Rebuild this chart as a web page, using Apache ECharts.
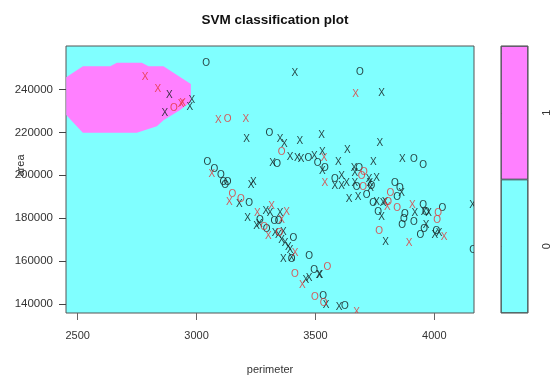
<!DOCTYPE html>
<html>
<head>
<meta charset="utf-8">
<title>SVM classification plot</title>
<script src="https://cdn.jsdelivr.net/npm/echarts@6/dist/echarts.min.js"></script>
<style>
  html, body { margin: 0; padding: 0; background: #fff; }
  #main { width: 550px; height: 378px; }
</style>
</head>
<body>
<div id="main"></div>
<script>
var myChart = echarts.init(document.getElementById('main'));

// axis ticks
var xTicks = [2500, 3000, 3500, 4000];
var yTicks = [140000, 160000, 180000, 200000, 220000, 240000];
var keyLevels = ['0', '1'];

// outline of the region predicted as class 1 (perimeter, area)
var decisionRegion = [
    [2452, 245600], [2522, 250790], [2637, 250790], [2665, 252400],
    [2770, 252400], [2798, 250790], [2861, 250790], [2976, 242470],
    [2976, 234220], [2931, 230350], [2861, 225690], [2833, 222890],
    [2749, 219770], [2522, 219770], [2452, 228020]
];

// class 0, support vectors (x)
var darkX = [
    [2886, 237340], [2867, 229090], [2980, 235010], [2972, 231890],
    [3413, 247460], [3210, 216970], [3351, 216970], [3369, 214360], [3435, 215760],
    [3526, 218700], [3394, 208580], [3424, 207970], [3440, 207700], [3495, 208900],
    [3529, 210910], [3529, 202050], [3320, 205780], [3229, 195380], [3239, 196920],
    [3778, 238130], [3634, 211700], [3771, 214820], [3596, 206250], [3744, 206250],
    [3866, 207370], [3663, 203170], [3610, 199580], [3582, 194920], [3610, 194920],
    [3631, 196230], [3666, 196460], [3757, 198510], [3666, 200840], [3642, 188720],
    [3680, 189650], [3757, 187600], [3785, 186850], [3793, 187300], [3862, 191510],
    [3778, 180610], [3795, 168950], [3918, 182180], [3957, 182940], [3976, 182480],
    [3965, 176740], [4002, 172080], [4020, 172860], [4161, 186060], [3519, 153430],
    [3545, 139440], [3600, 138650], [3180, 186390], [3215, 179860], [3291, 183260],
    [3309, 182180], [3253, 176270], [3264, 177200], [3330, 172860], [3344, 172080],
    [3365, 173610], [3358, 169740], [3372, 168490], [3386, 166620], [3393, 165080],
    [3351, 182180], [3365, 160740], [3400, 161300], [3515, 153430], [3460, 151090],
    [3473, 151870], [3729, 196230], [3732, 194000], [3726, 198000]
];

// class 0, other points (o)
var darkO = [
    [3040, 252120], [3306, 219770], [3470, 207830], [3509, 205780], [3540, 203450],
    [3339, 205310], [3046, 205970], [3075, 202700], [3102, 200050], [3113, 196920],
    [3131, 196920], [3120, 195500], [3687, 248210], [3914, 207370], [3953, 204710],
    [3582, 198040], [3673, 194590], [3834, 196230], [3855, 193840], [3844, 189930],
    [3715, 190720], [3743, 186850], [3764, 182940], [3876, 181860], [3872, 179530],
    [3865, 176740], [3914, 178270], [3953, 186060], [4034, 184790], [3965, 182940],
    [3957, 174730], [3942, 172080], [4009, 173940], [4163, 165080], [3533, 143640],
    [3624, 138980], [3221, 186850], [3267, 179070], [3295, 174730], [3327, 178740],
    [3345, 178740], [3407, 170540], [3400, 160740], [3474, 162280], [3495, 155760],
    [3684, 203170], [3735, 195000]
];

// class 1, support vectors (x)
var redX = [
    [2784, 245590], [2837, 240140], [2935, 233000], [2941, 233750], [3092, 225690],
    [3207, 226010], [3537, 207830], [3540, 196230], [3669, 237810], [3064, 200370],
    [3803, 185270], [3908, 186060], [4041, 171280], [3894, 168490], [3673, 136320],
    [3138, 187320], [3256, 182480], [3316, 185600], [3302, 171610], [3358, 179070],
    [3379, 182940], [3414, 163820], [3445, 148760]
];

// class 1, other points (o)
var redO = [
    [2905, 231140], [3131, 226150], [3358, 210770], [3704, 201590], [3694, 199580],
    [3701, 194590], [3806, 187600], [3815, 191510], [3844, 184530], [3768, 174080],
    [4016, 182480], [4012, 179070], [3550, 157290], [3151, 191190], [3187, 188720],
    [3284, 175950], [3348, 172860], [3414, 154080], [3498, 143310], [3535, 140500]
];

var FONT = '"Liberation Sans", Arial, sans-serif';

function markerSeries(data, glyph, color) {
    return {
        type: 'custom',
        xAxisIndex: 0,
        yAxisIndex: 0,
        clip: true,
        data: data,
        renderItem: function (params, api) {
            var p = api.coord([api.value(0), api.value(1)]);
            return {
                type: 'text',
                x: p[0],
                y: p[1],
                style: {
                    text: glyph,
                    fill: color,
                    fontSize: 10,
                    fontFamily: FONT,
                    align: 'center',
                    verticalAlign: 'middle'
                }
            };
        }
    };
}

function plain(v) { return String(v); }

var option = {
    backgroundColor: '#fff',
    animation: false,
    title: {
        text: 'SVM classification plot',
        left: 270,
        top: 8,
        textAlign: 'center',
        textStyle: { fontFamily: FONT, fontSize: 13.5, fontWeight: 'bold', color: '#111' }
    },
    grid: [
        { left: 66, top: 46, width: 408, height: 267, show: true, containLabel: false,
          outerBoundsMode: 'none',
          backgroundColor: '#80ffff', borderColor: '#555', borderWidth: 1 },
        { left: 501, top: 46, width: 27, height: 267, show: true, containLabel: false,
          outerBoundsMode: 'none',
          backgroundColor: '#80ffff', borderColor: '#555', borderWidth: 1 }
    ],
    xAxis: [
        {
            type: 'value', gridIndex: 0, min: 2451, max: 4167,
            name: 'perimeter', nameLocation: 'middle', nameGap: 51, nameMoveOverlap: false,
            nameTextStyle: { fontFamily: FONT, fontSize: 11, color: '#333' },
            splitLine: { show: false },
            axisLine: { show: false },
            axisTick: { show: true, length: 7, lineStyle: { color: '#666' }, customValues: xTicks },
            axisLabel: { fontFamily: FONT, fontSize: 11, color: '#333', margin: 17,
                         customValues: xTicks, formatter: plain }
        },
        {
            type: 'value', gridIndex: 1, min: 0, max: 1, show: false
        }
    ],
    yAxis: [
        {
            type: 'value', gridIndex: 0, min: 135900, max: 260200,
            name: 'area', nameLocation: 'middle', nameGap: 40, nameMoveOverlap: false,
            nameTextStyle: { fontFamily: FONT, fontSize: 11, color: '#333', padding: [0, 0, 0, 28] },
            splitLine: { show: false },
            axisLine: { show: false },
            axisTick: { show: true, length: 7, lineStyle: { color: '#444' }, customValues: yTicks },
            axisLabel: { fontFamily: FONT, fontSize: 11.5, color: '#333', margin: 13,
                         customValues: yTicks, formatter: plain }
        },
        {
            type: 'category', gridIndex: 1, position: 'right', data: keyLevels,
            axisLine: { show: false },
            axisTick: { show: true, length: 7, alignWithLabel: true, lineStyle: { color: '#444' } },
            axisLabel: { fontFamily: FONT, fontSize: 11, color: '#333', rotate: 90, margin: 13 }
        }
    ],
    series: [
        {
            type: 'custom',
            xAxisIndex: 0,
            yAxisIndex: 0,
            clip: true,
            silent: true,
            data: [0],
            renderItem: function (params, api) {
                var pts = decisionRegion.map(function (d) { return api.coord(d); });
                return { type: 'polygon', shape: { points: pts }, style: { fill: '#ff80ff' } };
            }
        },
        markerSeries(darkX, 'X', 'rgba(20,30,30,0.85)'),
        markerSeries(darkO, 'O', 'rgba(20,30,30,0.85)'),
        markerSeries(redX, 'X', 'rgba(230,50,50,0.8)'),
        markerSeries(redO, 'O', 'rgba(230,50,50,0.8)'),
        {
            type: 'bar',
            xAxisIndex: 1,
            yAxisIndex: 1,
            barWidth: '100%',
            silent: true,
            data: [
                { value: 1, itemStyle: { color: '#80ffff', borderColor: '#444', borderWidth: 0.8 } },
                { value: 1, itemStyle: { color: '#ff80ff', borderColor: '#444', borderWidth: 0.8 } }
            ]
        }
    ]
};
myChart.setOption(option);
</script>
</body>
</html>
